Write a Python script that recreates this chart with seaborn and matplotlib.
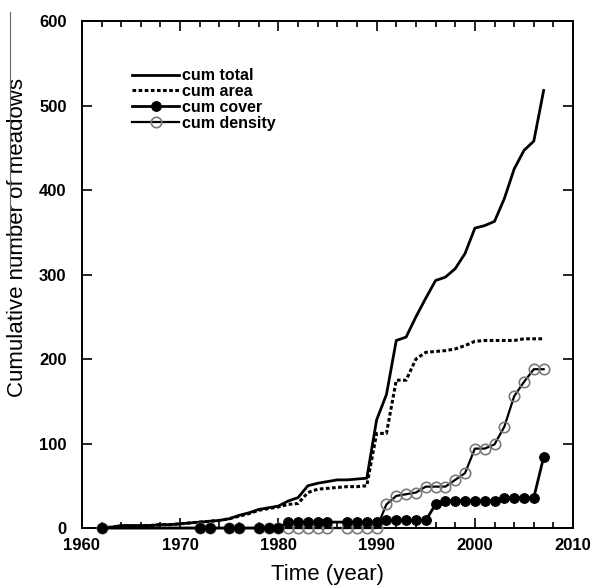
import matplotlib
matplotlib.use("Agg")
import matplotlib.pyplot as plt
from matplotlib.ticker import MultipleLocator
from matplotlib.lines import Line2D
import pandas as pd
import seaborn as sns

# yearly cumulative counts (total and area)
years = list(range(1962, 2008))
cum_total = [0, 1, 3, 3, 3, 3, 4, 4, 5, 6,
             7, 8, 9, 11, 15, 18, 22, 24, 26, 32,
             36, 50, 53, 55, 57, 57, 58, 59, 128, 158,
             222, 226, 250, 272, 293, 297, 307, 325, 355, 358,
             363, 390, 425, 447, 458, 518]
cum_area = [0, 1, 2, 2, 2, 3, 4, 4, 5, 6,
            7, 8, 9, 11, 14, 17, 21, 23, 25, 28,
            29, 42, 46, 47, 48, 49, 49, 50, 112, 112,
            175, 175, 200, 208, 209, 210, 212, 216, 221, 222,
            222, 222, 222, 224, 224, 224]

# years with cover/density records
mark_years = [1962, 1972, 1973, 1975, 1976, 1978, 1979, 1980, 1981, 1982,
              1983, 1984, 1985, 1987, 1988, 1989, 1990, 1991, 1992, 1993,
              1994, 1995, 1996, 1997, 1998, 1999, 2000, 2001, 2002, 2003,
              2004, 2005, 2006, 2007]
cum_cover = [0, 0, 0, 0, 0, 0, 0, 0, 7, 7,
             7, 7, 7, 7, 7, 7, 7, 9, 9, 9,
             9, 9, 28, 32, 32, 32, 32, 32, 32, 36,
             36, 36, 36, 84]
cum_density = [0, 0, 0, 0, 0, 0, 0, 0, 0, 0,
               0, 0, 0, 0, 0, 0, 0, 28, 38, 40,
               42, 49, 49, 49, 57, 65, 94, 94, 99, 120,
               156, 173, 188, 188]

lines_df = pd.DataFrame({"year": years, "total": cum_total, "area": cum_area})
marks_df = pd.DataFrame({"year": mark_years, "cover": cum_cover, "density": cum_density})

plt.rcParams['font.family'] = ['Liberation Sans', 'DejaVu Sans']

fig = plt.figure(figsize=(6.11, 5.88), dpi=100)
ax = fig.add_axes([0.134, 0.102, 0.804, 0.862])

sns.lineplot(data=lines_df, x="year", y="total", ax=ax, color="black", lw=2.0,
             label="cum total")
sns.lineplot(data=lines_df, x="year", y="area", ax=ax, color="black", lw=2.2,
             linestyle=(0, (1.2, 0.8)), label="cum area")
sns.lineplot(data=marks_df, x="year", y="cover", ax=ax, color="black", lw=2.0,
             marker="o", markersize=7, markeredgecolor="black", label="cum cover",
             clip_on=False, zorder=4)
sns.lineplot(data=marks_df, x="year", y="density", ax=ax, color="black", lw=1.6,
             marker="o", markersize=7.5, markerfacecolor="none",
             markeredgecolor="#7a7a7a", markeredgewidth=1.2, label="cum density",
             clip_on=False, zorder=3)

ax.set_xlim(1960, 2010)
ax.set_ylim(0, 600)
ax.xaxis.set_major_locator(MultipleLocator(10))
ax.xaxis.set_minor_locator(MultipleLocator(2))
ax.yaxis.set_major_locator(MultipleLocator(100))

ax.tick_params(which="both", direction="in", top=True, right=True, width=1.2)
ax.tick_params(which="major", length=7)
ax.tick_params(which="minor", length=4)
ax.tick_params(axis="y", pad=11, labelsize=12)
ax.tick_params(axis="x", pad=7, labelsize=12)
for lab in ax.get_xticklabels() + ax.get_yticklabels():
    lab.set_fontweight("bold")
for sp in ax.spines.values():
    sp.set_linewidth(1.4)

ax.set_xlabel("Time (year)", fontsize=16, labelpad=8)
ax.set_ylabel("Cumulative number of meadows", fontsize=16)
ax.yaxis.set_label_coords(-0.11, 0.574)

leg = ax.legend(loc="upper left", bbox_to_anchor=(0.09, 0.92), frameon=False,
                handlelength=2.9, handletextpad=0.2, labelspacing=0.05,
                fontsize=11.5, borderaxespad=0)
for t in leg.get_texts():
    t.set_fontweight("bold")

# thin stray rule left of the y label, as in the scan
fig.add_artist(Line2D([10 / 611, 10 / 611], [1 - 12 / 588, 1 - 268 / 588],
                      color="#666666", lw=0.8))

fig.savefig("out.png", dpi=100)
